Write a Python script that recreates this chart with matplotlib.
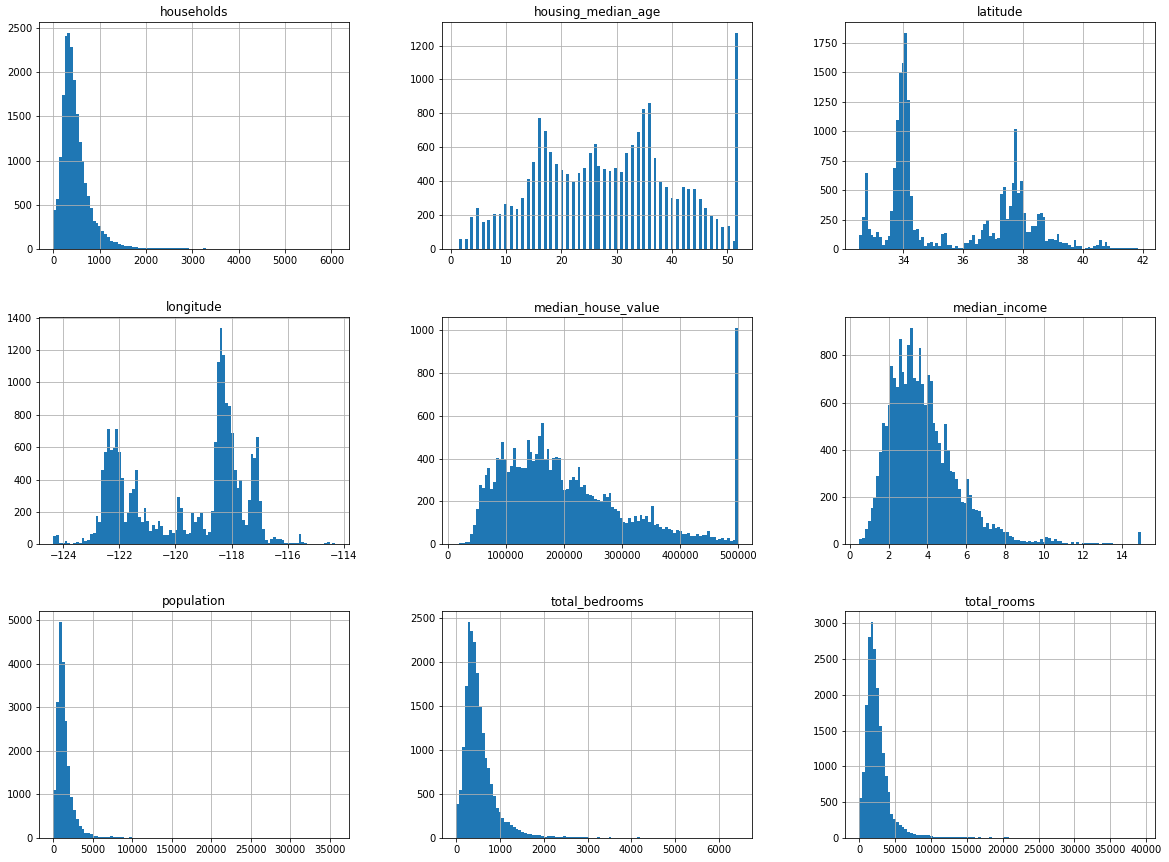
import numpy as np
import matplotlib
matplotlib.use("Agg")
import matplotlib.pyplot as plt

# ---------------- data (bin counts, 100 bins each) ----------------
titles = ["households", "housing_median_age", "latitude",
          "longitude", "median_house_value", "median_income",
          "population", "total_bedrooms", "total_rooms"]

# data ranges (min, max) per column
households_range = (1, 6082)
latitude_range = (32.54, 41.95)
longitude_range = (-124.35, -114.31)
median_house_value_range = (14999, 500001)
median_income_range = (0.4999, 15.0001)
population_range = (3, 35682)
total_bedrooms_range = (1, 6445)
total_rooms_range = (2, 39320)

households_counts = [445, 570, 1045, 1745, 2410, 2440, 2285, 1915, 1530, 1215,
                     995, 750, 605, 465, 320, 300, 262, 210, 172, 142,
                     95, 80, 85, 65, 50, 40, 38, 35, 25, 25,
                     15, 14, 20, 12, 12, 14, 12, 12, 13, 12,
                     12, 12, 12, 12, 12, 12, 12, 12, 0, 0,
                     0, 0, 0, 10, 0, 0, 0, 0, 0, 0,
                     0, 0, 0, 0, 0, 0, 0, 0, 1, 0,
                     0, 0, 0, 0, 0, 0, 0, 0, 0, 0,
                     0, 0, 0, 0, 0, 0, 0, 0, 0, 0,
                     0, 0, 0, 0, 0, 0, 0, 0, 0, 1]

housing_ages = list(range(1, 53))
housing_age_counts = [4, 58, 62, 191, 244, 160, 175, 206, 205, 264,
                      254, 238, 302, 412, 512, 771, 698, 570, 502, 465,
                      446, 399, 448, 478, 566, 619, 488, 471, 461, 476,
                      458, 565, 615, 689, 824, 862, 537, 394, 369, 304,
                      296, 368, 353, 356, 294, 245, 198, 177, 134, 136,
                      48, 1273]

latitude_counts = [125, 270, 650, 170, 120, 100, 150, 100, 35, 75,
                   115, 320, 685, 1095, 1495, 1580, 1830, 1260, 455, 160,
                   175, 75, 100, 25, 55, 65, 25, 50, 25, 130,
                   140, 40, 40, 15, 25, 15, 15, 55, 50, 75,
                   125, 45, 90, 160, 210, 245, 110, 140, 85, 95,
                   470, 525, 260, 365, 560, 1015, 475, 580, 310, 145,
                   145, 195, 195, 300, 310, 275, 70, 85, 90, 80,
                   130, 60, 50, 50, 35, 20, 80, 25, 25, 5,
                   15, 20, 15, 25, 35, 75, 30, 60, 25, 15,
                   10, 10, 10, 10, 10, 10, 10, 15, 15, 5]

longitude_counts = [50, 55, 10, 5, 20, 10, 0, 5, 15, 10,
                    40, 20, 25, 65, 70, 175, 140, 460, 570, 715,
                    580, 595, 715, 570, 410, 140, 195, 315, 340, 460,
                    170, 135, 225, 145, 80, 120, 95, 145, 110, 60,
                    55, 90, 70, 90, 290, 225, 90, 65, 70, 195,
                    140, 170, 195, 95, 60, 75, 205, 630, 1125, 1335,
                    1170, 870, 855, 690, 460, 345, 395, 150, 120, 275,
                    560, 530, 660, 265, 95, 25, 10, 35, 45, 30,
                    35, 25, 10, 10, 10, 10, 5, 65, 15, 10,
                    0, 0, 0, 0, 0, 0, 10, 15, 0, 5]

median_house_value_counts = [3, 5, 5, 10, 10, 48, 90, 165, 275, 265,
                             325, 355, 260, 290, 405, 400, 480, 400, 340, 365,
                             450, 360, 360, 355, 355, 485, 430, 390, 420, 505,
                             565, 400, 445, 345, 405, 410, 405, 300, 255, 260,
                             300, 315, 300, 360, 270, 275, 235, 230, 225, 210,
                             205, 200, 235, 220, 240, 175, 165, 155, 125, 105,
                             100, 125, 105, 130, 110, 135, 120, 130, 105, 180,
                             90, 95, 80, 70, 80, 70, 65, 55, 65, 60,
                             50, 50, 55, 40, 40, 50, 40, 45, 45, 60,
                             35, 35, 20, 25, 30, 20, 30, 15, 20, 1010]

median_income_counts = [22, 28, 65, 100, 155, 195, 290, 390, 515, 500,
                        590, 755, 705, 665, 870, 730, 680, 845, 915, 705,
                        690, 830, 680, 590, 715, 690, 515, 480, 430, 345,
                        510, 400, 310, 305, 275, 235, 180, 175, 275, 210,
                        150, 145, 140, 115, 75, 90, 65, 85, 70, 75,
                        65, 50, 50, 35, 30, 20, 18, 15, 15, 10,
                        12, 8, 12, 10, 22, 10, 30, 25, 15, 22,
                        15, 12, 5, 5, 3, 8, 3, 10, 0, 5,
                        5, 5, 5, 5, 5, 0, 5, 5, 5, 5,
                        0, 0, 0, 0, 0, 0, 0, 0, 0, 50]

population_counts = [1100, 3120, 4960, 4030, 2680, 1650, 940, 640, 440, 275,
                     210, 120, 115, 90, 50, 50, 30, 30, 25, 30,
                     40, 25, 15, 15, 20, 5, 5, 15, 3, 3,
                     3, 3, 2, 2, 2, 2, 1, 1, 1, 1,
                     0, 1, 0, 0, 1, 0, 0, 0, 0, 0,
                     0, 0, 0, 0, 0, 0, 0, 0, 0, 0,
                     0, 0, 0, 0, 0, 0, 0, 0, 0, 0,
                     0, 0, 0, 0, 0, 0, 0, 0, 1, 0,
                     0, 0, 0, 0, 0, 0, 0, 0, 0, 0,
                     0, 0, 0, 0, 0, 0, 0, 0, 0, 1]

total_bedrooms_counts = [385, 545, 1035, 1730, 2460, 2355, 2235, 1875, 1490, 1200,
                         905, 795, 610, 480, 340, 295, 225, 180, 180, 145,
                         120, 105, 90, 70, 55, 45, 40, 35, 35, 35,
                         25, 15, 25, 25, 25, 15, 15, 15, 20, 15,
                         12, 12, 12, 12, 12, 12, 12, 5, 5, 5,
                         10, 0, 0, 0, 10, 0, 0, 0, 0, 0,
                         0, 0, 0, 0, 10, 0, 0, 0, 0, 0,
                         0, 0, 0, 0, 0, 0, 0, 0, 0, 0,
                         0, 0, 0, 0, 0, 0, 0, 0, 0, 0,
                         0, 0, 0, 0, 0, 0, 0, 0, 0, 1]

total_rooms_counts = [555, 925, 1860, 2810, 3020, 2640, 2100, 1565, 1190, 865,
                      640, 335, 265, 225, 185, 150, 120, 80, 75, 55,
                      45, 40, 40, 40, 40, 30, 15, 12, 12, 12,
                      12, 12, 12, 12, 12, 10, 10, 10, 10, 8,
                      10, 0, 10, 0, 5, 0, 10, 0, 5, 0,
                      0, 10, 8, 0, 0, 0, 0, 0, 0, 0,
                      0, 0, 0, 0, 0, 0, 0, 0, 0, 0,
                      0, 0, 0, 0, 0, 0, 0, 0, 0, 0,
                      0, 0, 0, 0, 0, 0, 0, 0, 0, 0,
                      0, 0, 0, 0, 0, 0, 0, 0, 0, 1]

binned = {
    "households": (households_range, households_counts),
    "latitude": (latitude_range, latitude_counts),
    "longitude": (longitude_range, longitude_counts),
    "median_house_value": (median_house_value_range, median_house_value_counts),
    "median_income": (median_income_range, median_income_counts),
    "population": (population_range, population_counts),
    "total_bedrooms": (total_bedrooms_range, total_bedrooms_counts),
    "total_rooms": (total_rooms_range, total_rooms_counts),
}

# ---------------- figure ----------------
DPI = 72
W, H = 1169, 862
fig = plt.figure(figsize=(W / DPI, H / DPI), dpi=DPI)

lefts = [39.3, 442.3, 845.3]
tops = [22.3, 317.3, 611.0]
aw, ah = 310.0, 227.0

for i, name in enumerate(titles):
    r, c = divmod(i, 3)
    l, t = lefts[c], tops[r]
    ax = fig.add_axes([l / W, 1 - (t + ah) / H, aw / W, ah / H])
    if name == "housing_median_age":
        ax.hist(housing_ages, bins=100, weights=housing_age_counts, color="#1f77b4")
    else:
        (lo, hi), counts = binned[name]
        edges = np.linspace(lo, hi, 101)
        centers = (edges[:-1] + edges[1:]) / 2
        ax.hist(centers, bins=edges, weights=counts, color="#1f77b4")
    ax.set_title(name, fontsize=12)
    ax.grid(True, color="#b0b0b0", linewidth=0.8)
    ax.tick_params(labelsize=10)

fig.savefig("out.png", dpi=DPI)
